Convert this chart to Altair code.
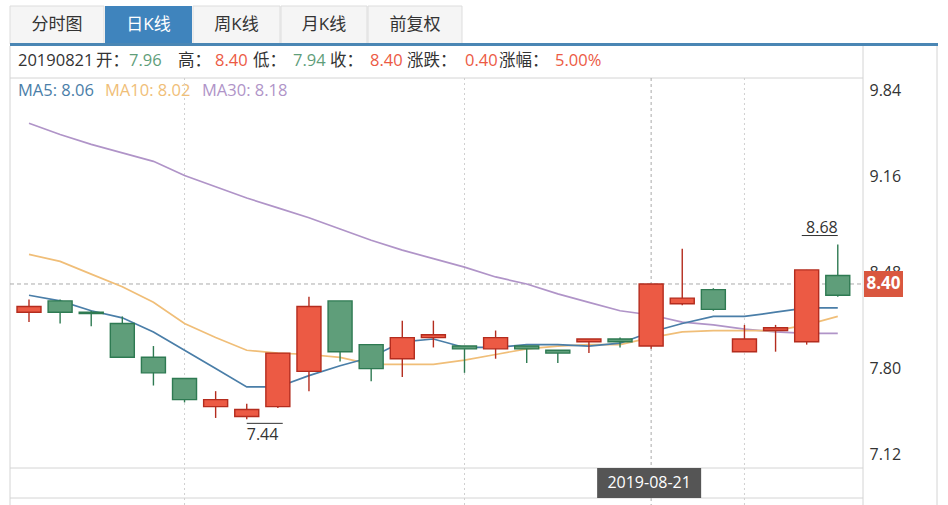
import altair as alt
import pandas as pd

# ---------------- data ----------------
idx = list(range(1, 28))
opens  = [8.20, 8.28, 8.20, 8.12, 7.88, 7.73, 7.53, 7.46, 7.53, 7.78, 8.28, 7.97, 7.87, 8.02,
          7.96, 7.94, 7.96, 7.93, 7.99, 8.01, 7.96, 8.26, 8.36, 7.92, 8.07, 7.99, 8.46]
highs  = [8.29, 8.29, 8.21, 8.17, 7.96, 7.73, 7.64, 7.55, 7.91, 8.31, 8.28, 7.97, 8.14, 8.14,
          7.96, 8.07, 7.96, 7.93, 8.01, 8.02, 8.40, 8.65, 8.37, 8.11, 8.11, 8.50, 8.68]
lows   = [8.13, 8.12, 8.10, 7.88, 7.68, 7.56, 7.45, 7.44, 7.52, 7.64, 7.85, 7.71, 7.74, 7.95,
          7.77, 7.87, 7.84, 7.84, 7.91, 7.95, 7.94, 8.25, 8.21, 7.92, 7.92, 7.97, 8.31]
closes = [8.24, 8.20, 8.19, 7.88, 7.77, 7.58, 7.58, 7.51, 7.91, 8.24, 7.92, 7.80, 8.02, 8.04,
          7.94, 8.02, 7.94, 7.91, 8.01, 7.99, 8.40, 8.30, 8.22, 8.01, 8.09, 8.50, 8.32]
ma5  = [8.32, 8.28, 8.21, 8.16, 8.06, 7.93, 7.80, 7.67, 7.67, 7.75, 7.82, 7.88, 7.99, 8.01,
        7.95, 7.95, 7.97, 7.97, 7.96, 7.98, 8.06, 8.12, 8.17, 8.17, 8.20, 8.23, 8.23]
ma10 = [8.61, 8.56, 8.47, 8.38, 8.27, 8.12, 8.02, 7.93, 7.91, 7.90, 7.88, 7.83, 7.83, 7.83,
        7.86, 7.90, 7.94, 7.96, 7.97, 7.97, 8.02, 8.06, 8.07, 8.07, 8.07, 8.11, 8.17]
ma30 = [9.54, 9.46, 9.39, 9.33, 9.27, 9.17, 9.09, 9.01, 8.94, 8.87, 8.79, 8.71, 8.64, 8.58,
        8.52, 8.45, 8.40, 8.33, 8.27, 8.21, 8.18, 8.13, 8.11, 8.08, 8.06, 8.05, 8.05]
tick_values = [7.12, 7.80, 8.48, 9.16, 9.84]
grid_idx = [6, 15, 24]
sel_idx = 21
sel_date = "2019-08-21"
sel_code = "20190821"
info_labels = ["开：", "高：", "低：", "收：", "涨跌：", "涨幅："]
info_values = ["7.96", "8.40", "7.94", "8.40", "0.40", "5.00%"]
ma_names = ["MA5", "MA10", "MA30"]
ma_now = ["8.06", "8.02", "8.18"]
tabs = ["分时图", "日K线", "周K线", "月K线", "前复权"]
active_tab = "日K线"

# ---------------- styles / layout ----------------
FONT = "Open Sans, Noto Sans CJK SC"
RED, RED_D = "#ec5a44", "#b42c1e"
GREEN, GREEN_D = "#5f9e7a", "#2e7a52"
TXT = "#333333"
BORDER = "#d4d4d4"
BLUE = "#4a86b4"
MA_COLORS = ["#4a7ea8", "#f0be78", "#b094c8"]
INFO_COLORS = [GREEN, RED, GREEN, RED, RED, RED]
INFO_LABEL_X = [86, 168, 243, 320, 397, 489]
INFO_VALUE_X = [119, 205, 283, 360, 455, 545]
INFO_FS = 16.5
MA_X = [8, 95, 192]
TAB_PX = [(0, 94), (95, 182), (183, 270), (271, 357), (358, 452)]

W, H = 853, 390

df = pd.DataFrame({"idx": idx, "open": opens, "high": highs, "low": lows, "close": closes,
                   "ma5": ma5, "ma10": ma10, "ma30": ma30})
df["dir"] = ["up" if c >= o else "down" for o, c in zip(opens, closes)]
sel = df[df["idx"] == sel_idx]
one = pd.DataFrame({"a": [0]})

xscale = alt.Scale(domain=[0.55, 27.65], nice=False, zero=False)
yscale = alt.Scale(domain=[7.095, 9.861], nice=False, zero=False)
yaxis = alt.Axis(orient="right", values=tick_values, format=".2f", labelFlush=6,
                 labelFlushOffset=-2,
                 ticks=False, domain=False, grid=False, labelPadding=6, title=None,
                 labelFont=FONT, labelFontSize=16, labelColor=TXT, zindex=0)


def X(f="idx"):
    return alt.X(f + ":Q", scale=xscale, axis=None)


def Y(f):
    return alt.Y(f + ":Q", scale=yscale, axis=yaxis)


def txt(s, x, y, color=TXT, size=17, align="left", weight="normal"):
    return alt.Chart(one).mark_text(text=s, align=align, baseline="middle", font=FONT,
                                    fontSize=size, color=color, fontWeight=weight).encode(
        x=alt.value(x), y=alt.value(y))


def rect(x, x2, y, y2, fill, stroke=None):
    kw = dict(fill=fill)
    if stroke:
        kw.update(stroke=stroke, strokeWidth=1)
    return alt.Chart(one).mark_rect(**kw).encode(
        x=alt.value(x), x2=alt.value(x2), y=alt.value(y), y2=alt.value(y2))


def rule(x, x2, y, y2, color=BORDER, width=1):
    return alt.Chart(one).mark_rule(color=color, strokeWidth=width).encode(
        x=alt.value(x), x2=alt.value(x2), y=alt.value(y), y2=alt.value(y2))


layers = []

# tabs
for name, (a, b) in zip(tabs, TAB_PX):
    active = name == active_tab
    layers.append(rect(a, b, -72, -34, "#3f84bd" if active else "#f5f5f5",
                       None if active else "#dddddd"))
    layers.append(txt(name, (a + b) / 2, -53, "#ffffff" if active else TXT, 17, "center"))
layers.append(rect(0, 928, -35, -32, BLUE))

# frame
layers += [
    rule(0, 0, -32, 427), rule(W, W, -32, 427), rule(927, 927, -32, 427),
    rule(0, W, 0, 0), rule(0, W, H, H), rule(0, W, 420, 420),
]

# info line
layers.append(txt(sel_code, 8, -17, TXT, INFO_FS))
for lab, val, col, lx, vx in zip(info_labels, info_values, INFO_COLORS, INFO_LABEL_X, INFO_VALUE_X):
    layers.append(txt(lab, lx, -17, TXT, INFO_FS))
    layers.append(txt(val, vx, -17, col, INFO_FS))

# MA legend
for n, v, c, xx in zip(ma_names, ma_now, MA_COLORS, MA_X):
    layers.append(txt(f"{n}: {v}", xx, 13, c, 16.5))

# grid + crosshair
layers.append(alt.Chart(pd.DataFrame({"idx": grid_idx})).mark_rule(
    color="#d0d0d0", strokeDash=[2, 3], strokeWidth=1).encode(
    x=X(), y=alt.value(0), y2=alt.value(427)))
layers.append(alt.Chart(sel).mark_rule(color="#aaaaaa", strokeDash=[3, 3], strokeWidth=1).encode(
    x=X(), y=alt.value(0), y2=alt.value(427)))
layers.append(alt.Chart(sel).mark_rule(color="#aaaaaa", strokeDash=[4, 3], strokeWidth=1).encode(
    y=Y("close"), x=alt.value(0), x2=alt.value(W)))

# MA lines
for f, c in zip(["ma30", "ma10", "ma5"], [MA_COLORS[2], MA_COLORS[1], MA_COLORS[0]]):
    layers.append(alt.Chart(df).mark_line(color=c, strokeWidth=1.7).encode(x=X(), y=Y(f)))

# candles
stroke_scale = alt.Scale(domain=["up", "down"], range=[RED_D, GREEN_D])
fill_scale = alt.Scale(domain=["up", "down"], range=[RED, GREEN])
layers.append(alt.Chart(df).mark_rule(strokeWidth=1.4).encode(
    x=X(), y=Y("low"), y2="high:Q", stroke=alt.Stroke("dir:N", scale=stroke_scale, legend=None)))
layers.append(alt.Chart(df).mark_bar(size=24, strokeWidth=1.4, orient="vertical").encode(
    x=X(), y=Y("open"), y2="close:Q",
    fill=alt.Fill("dir:N", scale=fill_scale, legend=None),
    stroke=alt.Stroke("dir:N", scale=stroke_scale, legend=None)))

# max / min annotations
dmax = df.loc[[df["high"].idxmax()]]
dmin = df.loc[[df["low"].idxmin()]]
layers.append(alt.Chart(dmax).mark_rule(color=TXT, xOffset=-36, yOffset=-9).encode(
    x=X(), x2="idx:Q", y=Y("high")))
layers.append(alt.Chart(dmax).mark_text(align="right", baseline="alphabetic", dy=-12, font=FONT,
                                        fontSize=16, color=TXT).encode(
    x=X(), y=Y("high"), text=alt.Text("high:Q", format=".2f")))
layers.append(alt.Chart(dmin).mark_rule(color=TXT, x2Offset=36, yOffset=4).encode(
    x=X(), x2="idx:Q", y=Y("low")))
layers.append(alt.Chart(dmin).mark_text(align="left", baseline="top", dy=8, font=FONT,
                                        fontSize=16, color=TXT).encode(
    x=X(), y=Y("low"), text=alt.Text("low:Q", format=".2f")))

# price tag on right axis
layers.append(alt.Chart(sel).mark_rect(color="#d9573f", yOffset=-13, y2Offset=13).encode(
    x=alt.value(854), x2=alt.value(893), y=Y("close"), y2="close:Q"))
layers.append(alt.Chart(sel).mark_text(color="#ffffff", font=FONT, fontSize=17,
                                       fontWeight="bold", align="center", baseline="middle").encode(
    x=alt.value(873.5), y=Y("close"), text=alt.Text("close:Q", format=".2f")))

# date tag
layers.append(alt.Chart(sel).mark_rect(color="#555555", xOffset=-54, x2Offset=50).encode(
    x=X(), x2="idx:Q", y=alt.value(390), y2=alt.value(420)))
layers.append(alt.Chart(sel).mark_text(text=sel_date, color="#ffffff", font=FONT, fontSize=16,
                                       align="center", baseline="middle", dx=-2).encode(
    x=X(), y=alt.value(405)))

chart = alt.layer(*layers).properties(
    width=W, height=H,
    padding={"left": 10, "top": 78, "right": 85, "bottom": 37},
    autosize=alt.AutoSizeParams(type="none"),
    background="white",
).configure_view(strokeWidth=0)

chart.save("out.html", embed_options={"renderer": "svg", "actions": False})
